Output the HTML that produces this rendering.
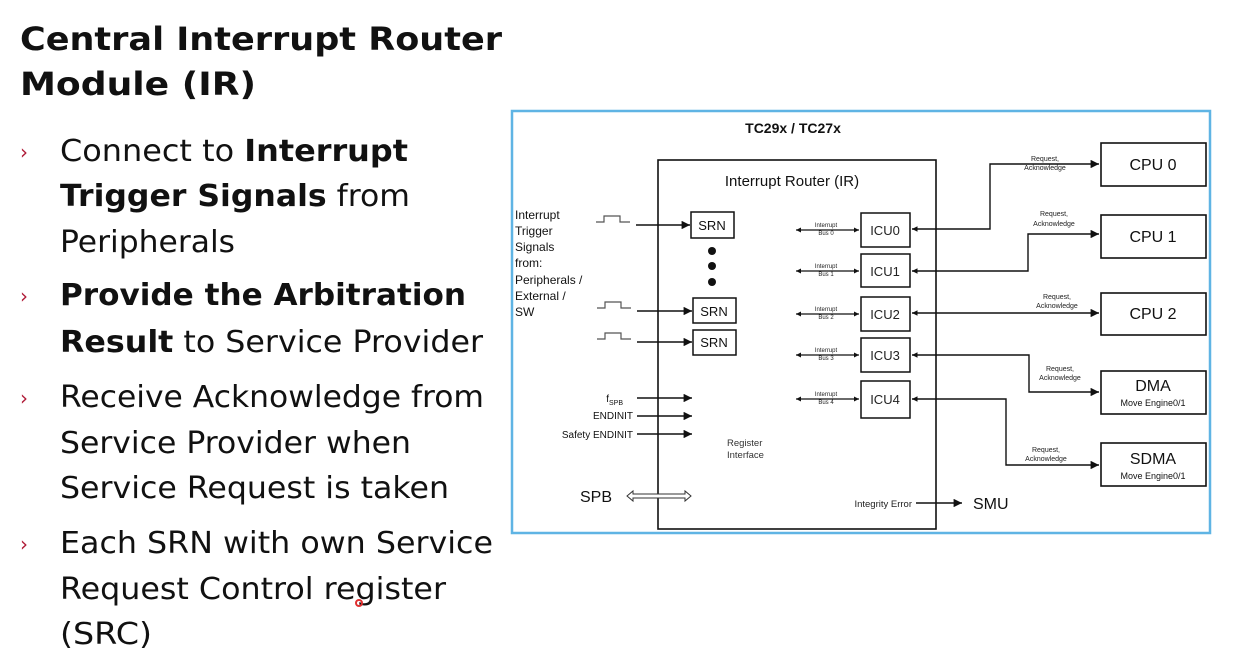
<!DOCTYPE html>
<html><head><meta charset="utf-8"><style>
html,body{margin:0;padding:0;background:#fff;}
svg{display:block;}
</style></head><body>
<svg width="1233" height="672" viewBox="0 0 1233 672" xmlns="http://www.w3.org/2000/svg">
<defs>
<marker id="a" viewBox="0 0 10 10" refX="10" refY="5" markerWidth="6" markerHeight="6" orient="auto-start-reverse"><path d="M0,0 L10,5 L0,10 z" fill="#111"/></marker>
<marker id="s" viewBox="0 0 10 10" refX="10" refY="5" markerWidth="4" markerHeight="4" orient="auto-start-reverse"><path d="M0,0 L10,5 L0,10 z" fill="#111"/></marker>
</defs>
<rect width="1233" height="672" fill="#fff"/>
<g font-family="'DejaVu Sans','Liberation Sans',sans-serif" fill="#111">
<text x="20" y="50" font-size="32" font-weight="bold" textLength="482" lengthAdjust="spacingAndGlyphs">Central Interrupt Router</text>
<text x="20" y="95" font-size="32" font-weight="bold" textLength="236" lengthAdjust="spacingAndGlyphs">Module (IR)</text>
<g font-size="30">
<text x="60" y="161" textLength="348" lengthAdjust="spacingAndGlyphs">Connect to <tspan font-weight="bold">Interrupt</tspan></text>
<text x="60" y="206" textLength="350" lengthAdjust="spacingAndGlyphs"><tspan font-weight="bold">Trigger Signals</tspan> from</text>
<text x="60" y="252" textLength="175" lengthAdjust="spacingAndGlyphs">Peripherals</text>
<text x="60" y="305" textLength="406" lengthAdjust="spacingAndGlyphs" font-weight="bold">Provide the Arbitration</text>
<text x="60" y="352" textLength="423" lengthAdjust="spacingAndGlyphs"><tspan font-weight="bold">Result</tspan> to Service Provider</text>
<text x="60" y="407" textLength="424" lengthAdjust="spacingAndGlyphs">Receive Acknowledge from</text>
<text x="60" y="453" textLength="351" lengthAdjust="spacingAndGlyphs">Service Provider when</text>
<text x="60" y="498" textLength="389" lengthAdjust="spacingAndGlyphs">Service Request is taken</text>
<text x="60" y="553" textLength="433" lengthAdjust="spacingAndGlyphs">Each SRN with own Service</text>
<text x="60" y="599" textLength="386" lengthAdjust="spacingAndGlyphs">Request Control register</text>
<text x="60" y="644" textLength="92" lengthAdjust="spacingAndGlyphs">(SRC)</text>
</g>
<g fill="#b01c38" font-size="20">
<text x="20" y="159">›</text><text x="20" y="303">›</text><text x="20" y="405">›</text><text x="20" y="551">›</text>
</g>
</g>
<circle cx="359" cy="603" r="3" fill="none" stroke="#e03030" stroke-width="2"/>

<rect x="512" y="111" width="698" height="422" fill="#fff" stroke="#5fb4e4" stroke-width="2.5"/>
<g font-family="'Liberation Sans',Arial,sans-serif" fill="#111">
<text x="793" y="133" font-size="14" font-weight="bold" text-anchor="middle">TC29x / TC27x</text>
<rect x="658" y="160" width="278" height="369" fill="none" stroke="#111" stroke-width="1.6"/>
<text x="792" y="186" font-size="15" text-anchor="middle">Interrupt Router (IR)</text>

<g font-size="12">
<text x="515" y="219">Interrupt</text>
<text x="515" y="235">Trigger</text>
<text x="515" y="251">Signals</text>
<text x="515" y="267">from:</text>
<text x="515" y="284">Peripherals /</text>
<text x="515" y="300">External /</text>
<text x="515" y="316">SW</text>
</g>
<g fill="none" stroke="#555" stroke-width="1.2">
<path d="M596,222 h8 v-6 h16 v6 h10"/>
<path d="M597,308 h8 v-6 h16 v6 h10"/>
<path d="M597,339 h8 v-6 h16 v6 h10"/>
</g>
<g stroke="#111" stroke-width="1.4" fill="none">
<line x1="636" y1="225" x2="690" y2="225" marker-end="url(#a)"/>
<line x1="637" y1="311" x2="692" y2="311" marker-end="url(#a)"/>
<line x1="637" y1="342" x2="692" y2="342" marker-end="url(#a)"/>
</g>
<g stroke="#111" stroke-width="1.5" fill="#fff">
<rect x="691" y="212" width="43" height="26"/>
<rect x="693" y="298" width="43" height="25"/>
<rect x="693" y="330" width="43" height="25"/>
</g>
<g font-size="13" text-anchor="middle">
<text x="712" y="230">SRN</text><text x="714" y="316">SRN</text><text x="714" y="347">SRN</text>
</g>
<circle cx="712" cy="251" r="4"/><circle cx="712" cy="266" r="4"/><circle cx="712" cy="282" r="4"/>

<g font-size="10" text-anchor="end">
<text x="623" y="402">f<tspan font-size="7" dy="3">SPB</tspan></text>
<text x="633" y="419">ENDINIT</text>
<text x="633" y="438">Safety ENDINIT</text>
</g>
<g stroke="#111" stroke-width="1.4">
<line x1="637" y1="398" x2="692" y2="398" marker-end="url(#a)"/>
<line x1="637" y1="416" x2="692" y2="416" marker-end="url(#a)"/>
<line x1="637" y1="434" x2="692" y2="434" marker-end="url(#a)"/>
</g>
<text x="727" y="446" font-size="9.5" fill="#333">Register</text>
<text x="727" y="458" font-size="9.5" fill="#333">Interface</text>
<text x="580" y="502" font-size="16">SPB</text>
<path d="M627,496 l6,-5 v3 h52 v-3 l6,5 l-6,5 v-3 h-52 v3 z" fill="#fff" stroke="#333" stroke-width="1"/>

<g stroke="#111" stroke-width="1.5" fill="#fff">
<rect x="861" y="213" width="49" height="34"/>
<rect x="861" y="254" width="49" height="33"/>
<rect x="861" y="297" width="49" height="34"/>
<rect x="861" y="338" width="49" height="34"/>
<rect x="861" y="381" width="49" height="37"/>
</g>
<g font-size="13" text-anchor="middle" fill="#222">
<text x="885" y="235">ICU0</text><text x="885" y="276">ICU1</text><text x="885" y="319">ICU2</text><text x="885" y="360">ICU3</text><text x="885" y="404">ICU4</text>
</g>
<g stroke="#111" stroke-width="1.3">
<line x1="796" y1="230" x2="859" y2="230" marker-start="url(#s)" marker-end="url(#s)"/>
<line x1="796" y1="271" x2="859" y2="271" marker-start="url(#s)" marker-end="url(#s)"/>
<line x1="796" y1="314" x2="859" y2="314" marker-start="url(#s)" marker-end="url(#s)"/>
<line x1="796" y1="355" x2="859" y2="355" marker-start="url(#s)" marker-end="url(#s)"/>
<line x1="796" y1="399" x2="859" y2="399" marker-start="url(#s)" marker-end="url(#s)"/>
</g>
<g font-size="6" text-anchor="middle" fill="#222">
<text x="826" y="227">Interrupt</text><text x="826" y="235">Bus 0</text>
<text x="826" y="268">Interrupt</text><text x="826" y="276">Bus 1</text>
<text x="826" y="311">Interrupt</text><text x="826" y="319">Bus 2</text>
<text x="826" y="352">Interrupt</text><text x="826" y="360">Bus 3</text>
<text x="826" y="396">Interrupt</text><text x="826" y="404">Bus 4</text>
</g>

<g stroke="#111" stroke-width="1.4" fill="none">
<path d="M912,229 H990 V164 H1099" marker-start="url(#s)" marker-end="url(#a)"/>
<path d="M912,271 H1028 V234 H1099" marker-start="url(#s)" marker-end="url(#a)"/>
<path d="M912,313 H1099" marker-start="url(#s)" marker-end="url(#a)"/>
<path d="M912,355 H1029 V392 H1099" marker-start="url(#s)" marker-end="url(#a)"/>
<path d="M912,399 H1006 V465 H1099" marker-start="url(#s)" marker-end="url(#a)"/>
</g>
<g font-size="7" text-anchor="middle" fill="#222">
<text x="1045" y="161">Request,</text><text x="1045" y="170">Acknowledge</text>
<text x="1054" y="216">Request,</text><text x="1054" y="226">Acknowledge</text>
<text x="1057" y="299">Request,</text><text x="1057" y="308">Acknowledge</text>
<text x="1060" y="371">Request,</text><text x="1060" y="380">Acknowledge</text>
<text x="1046" y="452">Request,</text><text x="1046" y="461">Acknowledge</text>
</g>
<g stroke="#111" stroke-width="1.6" fill="#fff">
<rect x="1101" y="143" width="105" height="43"/>
<rect x="1101" y="215" width="105" height="43"/>
<rect x="1101" y="293" width="105" height="42"/>
<rect x="1101" y="371" width="105" height="43"/>
<rect x="1101" y="443" width="105" height="43"/>
</g>
<g text-anchor="middle" fill="#111">
<text x="1153" y="170" font-size="16">CPU 0</text>
<text x="1153" y="242" font-size="16">CPU 1</text>
<text x="1153" y="319" font-size="16">CPU 2</text>
<text x="1153" y="391" font-size="16">DMA</text>
<text x="1153" y="406" font-size="9">Move Engine0/1</text>
<text x="1153" y="464" font-size="16">SDMA</text>
<text x="1153" y="479" font-size="9">Move Engine0/1</text>
</g>
<text x="912" y="507" font-size="9.5" text-anchor="end" fill="#222">Integrity Error</text>
<line x1="916" y1="503" x2="962" y2="503" stroke="#111" stroke-width="1.4" marker-end="url(#a)"/>
<text x="973" y="509" font-size="16">SMU</text>
</g>
</svg>
</body></html>
